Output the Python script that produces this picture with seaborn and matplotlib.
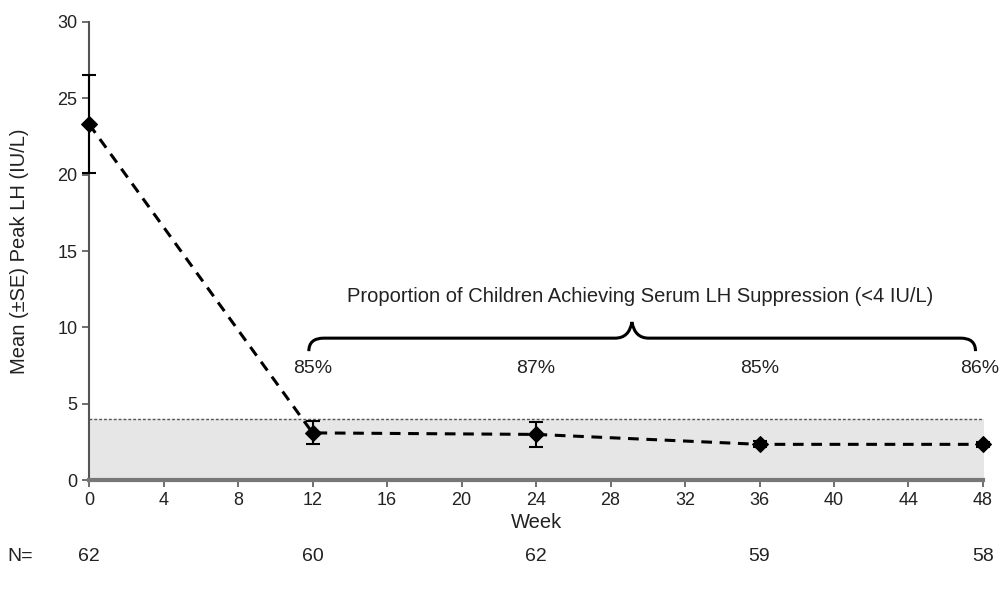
import pandas as pd
import seaborn as sns
from matplotlib import pyplot as plt
from matplotlib.path import Path
from matplotlib.patches import PathPatch

weeks = [0, 12, 24, 36, 48]
mean_lh = [23.3, 3.1, 3.0, 2.35, 2.35]
se_lh = [3.2, 0.75, 0.8, 0.2, 0.15]
n_subjects = [62, 60, 62, 59, 58]
pct_suppressed = ["85%", "87%", "85%", "86%"]
pct_weeks = [12, 24, 36, 47.8]
threshold = 4

sns.set_style("ticks")
plt.rcParams['font.family'] = ['Liberation Sans', 'DejaVu Sans']

df = pd.DataFrame({'week': weeks, 'lh': mean_lh, 'se': se_lh})

fig = plt.figure(figsize=(10.01, 5.9), dpi=100)
ax = fig.add_axes([0.089, 0.186, 0.893, 0.777])

# suppression band below 4 IU/L
ax.fill_between([0, 48], 0, threshold, color='#e6e6e6', zorder=0)
ax.axhline(threshold, color='#555555', ls=(0, (2, 1.5)), lw=1, zorder=1)

sns.lineplot(data=df, x='week', y='lh', ax=ax, color='black', lw=2.2,
             ls=(0, (3.5, 2.5)), marker='D', markersize=8, mec='black', zorder=3)
for ln in ax.lines:
    ln.set_clip_on(False)
ax.errorbar(df['week'], df['lh'], yerr=df['se'], fmt='none', ecolor='black',
            elinewidth=1.5, capsize=5, capthick=1.5, zorder=3, clip_on=False)

ax.set_xlim(0, 48)
ax.set_ylim(0, 30)
ax.set_xticks(range(0, 49, 4))
ax.set_yticks(range(0, 31, 5))
ax.tick_params(labelsize=13, length=5, width=1.2, color='#555555', colors='#222222')
for side in ['top', 'right']:
    ax.spines[side].set_visible(False)
ax.spines['left'].set_color('#555555')
ax.spines['left'].set_linewidth(1.5)
ax.spines['bottom'].set_color('#777777')
ax.spines['bottom'].set_linewidth(3)
ax.set_xlabel('Week', fontsize=14.5, color='#222222', labelpad=3)
ax.set_ylabel('Mean (±SE) Peak LH (IU/L)', fontsize=14.5, color='#222222', labelpad=20)

# curly brace over weeks 12-48
x0, xm, x1, yb, ye = 11.8, 29.15, 47.6, 9.3, 8.45
verts = [(x0, ye), (x0, yb), (x0 + 0.8, yb),
         (xm - 0.9, yb), (xm - 0.15, yb), (xm, 10.35),
         (xm + 0.15, yb), (xm + 0.9, yb),
         (x1 - 0.8, yb), (x1, yb), (x1, ye)]
codes = [Path.MOVETO, Path.CURVE3, Path.CURVE3,
         Path.LINETO, Path.CURVE3, Path.CURVE3,
         Path.CURVE3, Path.CURVE3,
         Path.LINETO, Path.CURVE3, Path.CURVE3]
ax.add_patch(PathPatch(Path(verts, codes), fc='none', ec='black', lw=2.2, clip_on=False))

ax.text(29.6, 12.05, 'Proportion of Children Achieving Serum LH Suppression (<4 IU/L)',
        ha='center', va='center', fontsize=14.5, color='#222222')
for w, p in zip(pct_weeks, pct_suppressed):
    ax.text(w, 7.3, p, ha='center', va='center', fontsize=14,
            color='#222222', clip_on=False)

# N row under the axis
ax.text(-3.7, -5.0, 'N=', ha='center', va='center', fontsize=14, color='#222222')
for w, n in zip(weeks, n_subjects):
    ax.text(w, -5.0, str(n), ha='center', va='center', fontsize=14, color='#222222')

fig.savefig("out.png", dpi=100)
